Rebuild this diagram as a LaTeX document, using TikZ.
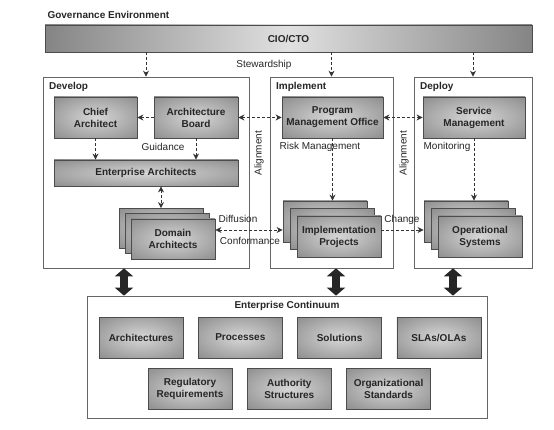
\documentclass[tikz,border=0pt]{standalone}
\usepackage{fontspec}
\setmainfont{Liberation Sans}
\usetikzlibrary{arrows.meta,positioning}
\colorlet{glowin}{black!16}
\colorlet{glowout}{black!56}
\pgfdeclareradialshading{boxglow}{\pgfpoint{0bp}{0bp}}{color(0bp)=(glowin); color(50bp)=(glowout); color(100bp)=(glowout)}

\begin{document}
\begin{tikzpicture}[x=1pt,y=-1pt,
    txt/.style={font=\fontsize{10}{11}\selectfont, text=black!85},
    head/.style={font=\fontsize{10}{11}\selectfont\bfseries, text=black!85},
    panel/.style={draw=black!60, line width=0.7pt, fill=white},
    block/.style={draw=black!70, line width=0.8pt, shade, shading=boxglow,
        minimum width=84pt, minimum height=41pt, inner sep=1pt, align=center,
        font=\fontsize{10}{12}\selectfont\bfseries, text=black!85},
    flow/.style={black!80, line width=0.8pt, dash pattern=on 3pt off 2pt,
        -{Stealth[length=6pt,width=6pt]}},
    flowboth/.style={flow, {Stealth[length=6pt,width=6pt]}-{Stealth[length=6pt,width=6pt]}},
    bigarrow/.style={black!85, line width=8pt,
        {Triangle[length=8pt,width=18pt]}-{Triangle[length=8pt,width=18pt]}},
    node distance=14.5pt]
\useasboundingbox (0,0) rectangle (554,430);

% governance bar on top
\node[head, anchor=west] (gov) at (44,15) {Governance Environment};
\node[draw=black!70, line width=0.7pt, left color=black!48, right color=black!48,
      middle color=black!12, minimum width=487pt, minimum height=27pt,
      font=\fontsize{10}{11}\selectfont\bfseries, text=black!85] (cio) at (288.5,38.5) {CIO/CTO};

% the three areas
\node[panel, minimum width=206pt, minimum height=191pt] (develop) at (146,172.5) {};
\node[panel, minimum width=123pt, minimum height=191pt] (implement) at (331.5,172.5) {};
\node[panel, minimum width=118pt, minimum height=191pt] (deploy) at (473,172.5) {};
\node[head, anchor=west] at ([shift={(3pt,-10pt)}]develop.north west) {Develop};
\node[head, anchor=west] at ([shift={(3pt,-10pt)}]implement.north west) {Implement};
\node[head, anchor=west] at ([shift={(3pt,-10pt)}]deploy.north west) {Deploy};

% develop
\node[block, minimum width=83pt] (chief) at (95.5,117.5) {Chief\\Architect};
\node[block] (board) at (196,117.5) {Architecture\\Board};
\node[block, minimum width=184pt, minimum height=26pt] (ea) at (146,173) {Enterprise Architects};
\node[block, minimum height=40pt] (domainc) at (161,228.5) {};
\node[block, minimum height=40pt] (domainb) at (167,233.5) {};
\node[block, minimum height=40pt] (domain) at (173,239) {Domain\\Architects};

% implement
\node[block, minimum width=101pt] (pmo) at (332.5,117.5) {Program\\Management Office};
\node[block] (implc) at (325,221.5) {};
\node[block] (implb) at (332,229) {};
\node[block] (impl) at (339,236.5) {Implementation\\Projects};

% deploy
\node[block, minimum width=102pt] (service) at (474,117.5) {Service\\Management};
\node[block] (opsc) at (466,221.5) {};
\node[block] (opsb) at (473,229) {};
\node[block] (ops) at (480,236.5) {Operational\\Systems};

% enterprise continuum
\node[panel, minimum width=400pt, minimum height=122pt] (continuum) at (287,357) {};
\node[head] (ectitle) at (287,306) {Enterprise Continuum};
\node[block] (archs) at (141,337.5) {Architectures};
\node[block, right=of archs] (procs) {Processes};
\node[block, right=of procs] (sols) {Solutions};
\node[block, right=of sols] (slas) {SLAs/OLAs};
\node[block] (regs) at (190,388.5) {Regulatory\\Requirements};
\node[block, right=of regs] (auth) {Authority\\Structures};
\node[block, right=of auth] (orgs) {Organizational\\Standards};

% labels on the connectors
\node[txt] at (264,65) {Stewardship};
\node[txt] at (163,147) {Guidance};
\node[txt] at (320,147) {Risk Management};
\node[txt] at (447,147) {Monitoring};
\node[txt] at (238,219) {Diffusion};
\node[txt] at (250,241) {Conformance};
\node[txt] at (402,220) {Change};
\node[txt, rotate=90] at (259,153) {Alignment};
\node[txt, rotate=90] at (404,153) {Alignment};

% dashed connectors
\draw[flow] (cio.south -| develop.north) -- (develop.north);
\draw[flow] (cio.south -| implement.north) -- (implement.north);
\draw[flow] (cio.south -| deploy.north) -- (deploy.north);
\draw[flow] (board.west) -- (chief.east);
\draw[flowboth] (board.east) -- (pmo.west);
\draw[flowboth] (pmo.east) -- (service.west);
\draw[flow] (chief.south) -- (chief.south |- ea.north);
\draw[flow] (board.south) -- (board.south |- ea.north);
\draw[flowboth] (domainc.north |- ea.south) -- (domainc.north);
\draw[flow] (pmo.south) -- (pmo.south |- implc.north);
\draw[flow] (service.south) -- (service.south |- opsc.north);
\draw[flowboth] ([yshift=9pt]domain.east) -- ([yshift=9pt]domain.east -| implc.west);
\draw[flow] ([yshift=6.5pt]impl.east) -- ([yshift=6.5pt]impl.east -| opsc.west);

% links down to the continuum
\draw[bigarrow] ([xshift=-22pt]develop.south) -- ([xshift=-22pt]develop.south |- continuum.north);
\draw[bigarrow] ([xshift=4.5pt]implement.south) -- ([xshift=4.5pt]implement.south |- continuum.north);
\draw[bigarrow] ([xshift=-20pt]deploy.south) -- ([xshift=-20pt]deploy.south |- continuum.north);
\end{tikzpicture}
\end{document}
